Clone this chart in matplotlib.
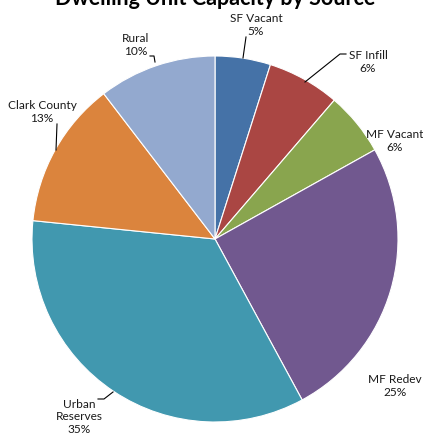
import matplotlib
matplotlib.use('Agg')
import matplotlib.pyplot as plt

# Dwelling unit capacity by source (percent of total)
sources = ['SF Vacant', 'SF Infill', 'MF Vacant', 'MF Redev',
           'Urban Reserves', 'Clark County', 'Rural']
shares = [4.9, 6.4, 5.6, 25.2, 34.5, 13.0, 10.4]
label_pct = ['5%', '6%', '6%', '25%', '35%', '13%', '10%']
colors = ['#4572A7', '#AA4643', '#89A54E', '#71588F',
          '#4198AF', '#DB843D', '#93A9CF']

W, H = 423, 439
plt.rcParams['font.family'] = ['Lato', 'DejaVu Sans']

fig = plt.figure(figsize=(W / 100, H / 100), dpi=100)
ax = fig.add_axes([0, 0, 1, 1])

cx, cy, r = 215, H - 240, 183
ax.pie(shares, colors=colors, startangle=90, counterclock=False,
       center=(cx, cy), radius=r,
       wedgeprops=dict(edgecolor='white', linewidth=0.8))
ax.set_xlim(0, W)
ax.set_ylim(0, H)
ax.set_aspect('equal')
ax.axis('off')

# label text positions (pixels from top-left) and leader lines
text_pos = {
    'SF Vacant': (256, 25, 'center'),
    'SF Infill': (368, 62, 'center'),
    'MF Vacant': (395, 141, 'center'),
    'MF Redev': (395, 386, 'center'),
    'Urban Reserves': (79, 417, 'center'),
    'Clark County': (42, 112, 'center'),
    'Rural': (136, 45, 'center'),
}
leaders = {
    'SF Vacant': [(246, 38), (243, 59)],
    'SF Infill': [(346, 55), (340, 55), (305, 83)],
    'Urban Reserves': [(98, 400), (104, 400), (113, 393)],
    'Clark County': [(57, 125), (56, 151)],
    'Rural': [(150, 57), (154, 57), (155, 63)],
}

for name, pct in zip(sources, label_pct):
    x, y, ha = text_pos[name]
    txt = name.replace('Urban Reserves', 'Urban\nReserves') + '\n' + pct
    ax.text(x, H - y, txt, ha=ha, va='center', fontsize=8.6,
            linespacing=1.2, color='#1a1a1a')
for pts in leaders.values():
    ax.plot([p[0] for p in pts], [H - p[1] for p in pts],
            color='black', linewidth=0.8)

fig.text(215 / W, 1 - 5 / H, 'Dwelling Unit Capacity by Source',
         ha='center', va='baseline', fontsize=15.5, fontweight='bold')

fig.savefig('out.png', dpi=100)
